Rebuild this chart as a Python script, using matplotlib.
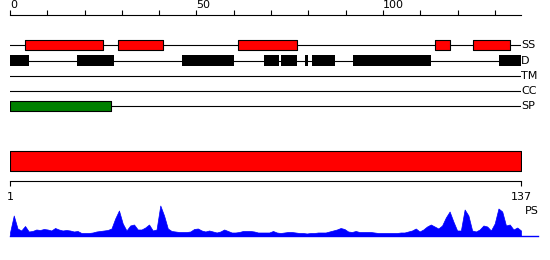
import matplotlib
matplotlib.use("Agg")
import matplotlib.pyplot as plt

# sequence length and feature tracks (residue ranges)
seq_len = 137
ss_segments = [(4, 25), (29, 41), (61, 77), (114, 118), (124, 134)]
d_segments = [(0, 5), (18, 28), (46, 60), (68, 72), (72.6, 77), (79, 80),
              (81, 87), (92, 113), (131, 137)]
tm_segments = []
cc_segments = []
sp_segments = [(0, 27)]
track_names = ["SS", "D", "TM", "CC", "SP"]

# profile score per residue (1..137)
ps_values = [3, 20, 7, 5, 9.5, 4, 4.5, 6, 5.5, 6.5,
             6, 5, 7.5, 6, 5, 5.5, 5, 4, 4.5, 2.5,
             2.5, 2.5, 3, 4, 4.5, 5, 5.5, 7, 17, 25,
             12, 5, 10, 11, 6, 6, 8, 11, 5, 6,
             30, 20, 7, 4.5, 4, 3.5, 3.5, 3.5, 4, 6.5,
             7, 5, 4, 5, 4, 3, 4, 6, 4.5, 3,
             3, 3.5, 4.5, 4.5, 4.5, 4, 3, 3, 3, 3,
             4.5, 3, 2.5, 3, 3.5, 3.5, 3, 2.5, 2.5, 2,
             2.5, 2.5, 3, 3, 3, 4, 5, 6, 7.5, 6.5,
             4, 3.5, 4.5, 3.5, 3.5, 3.5, 3.5, 3, 2.5, 2.5,
             2.5, 2.5, 2.5, 2.5, 3, 3, 4, 5, 7, 4,
             6, 9, 11, 9, 7, 10, 18, 24, 14, 5,
             5, 26, 20, 5, 4, 6, 10, 9, 5, 12,
             27, 24, 10, 11, 6, 8, 5]
residues = list(range(1, seq_len + 1))

W, H = 550, 260
fig = plt.figure(figsize=(W / 100, H / 100), dpi=100)
fs = 8

# top axes: tracks, y in pixel rows
ax = fig.add_axes([10 / W, 0, 511 / W, 1])
ax.set_facecolor("none")
ax.set_xlim(0, seq_len)
ax.set_ylim(H, 0)
for s in ["left", "right", "bottom"]:
    ax.spines[s].set_visible(False)
ax.spines["top"].set_position(("data", 15))
ax.spines["top"].set_linewidth(0.8)
ax.yaxis.set_visible(False)
ax.xaxis.set_ticks_position("top")
ticks = list(range(0, seq_len + 1, 10))
ax.set_xticks(ticks)
ax.set_xticklabels([str(t) if t % 50 == 0 else "" for t in ticks])
ax.tick_params(axis="x", direction="out", length=3.3, width=0.8, pad=0,
               labelsize=fs)
plt.setp(ax.get_xticklabels(), ha="left")

tracks = [(ss_segments, 45, 10, "#ff0000", "black"),
          (d_segments, 60.5, 11, "black", "none"),
          (tm_segments, 75.5, 10, "black", "none"),
          (cc_segments, 90.5, 10, "black", "none"),
          (sp_segments, 105.5, 10, "#008000", "black")]
for name, (segs, yc, h, fc, ec) in zip(track_names, tracks):
    ax.plot([0, seq_len], [yc, yc], color="black", lw=0.8, zorder=1)
    if segs:
        ax.broken_barh([(a, b - a) for a, b in segs], (yc - h / 2, h),
                       facecolor=fc, edgecolor=ec, lw=0.8, zorder=2)
    ax.text(seq_len + 0.1, yc + 0.5, name, ha="left", va="center",
            fontsize=fs, clip_on=False)

# bottom axes: residue scale
bx = fig.add_axes([10 / W, 0, 511 / W, 1])
bx.set_facecolor("none")
bx.set_xlim(1, seq_len)
bx.set_ylim(H, 0)
for s in ["left", "right", "top"]:
    bx.spines[s].set_visible(False)
bx.spines["bottom"].set_position(("data", 181))
bx.spines["bottom"].set_linewidth(0.8)
bx.yaxis.set_visible(False)
bx.set_xticks([1, seq_len])
bx.set_xticklabels(["1", str(seq_len)])
bx.tick_params(axis="x", direction="out", length=3.3, width=0.8, pad=4.5,
               labelsize=fs)
bx.broken_barh([(1, seq_len - 1)], (151, 19.5), facecolor="#ff0000",
               edgecolor="black", lw=0.8)

# profile axes
cx = fig.add_axes([10 / W, (H - 235.5) / H, 511 / W, 36 / H])
cx.set_facecolor("none")
cx.set_xlim(1, seq_len)
cx.set_ylim(0, 36)
cx.axis("off")
cx.fill_between(residues, ps_values, 0, color="#0000ff", lw=0.5)
cx.axhline(0, 0, 1.033, color="#0000ff", lw=1, clip_on=False)
cx.text(seq_len + 1, 24, "PS", ha="left", va="center", fontsize=fs,
        clip_on=False)

fig.savefig("out.png", dpi=100)
